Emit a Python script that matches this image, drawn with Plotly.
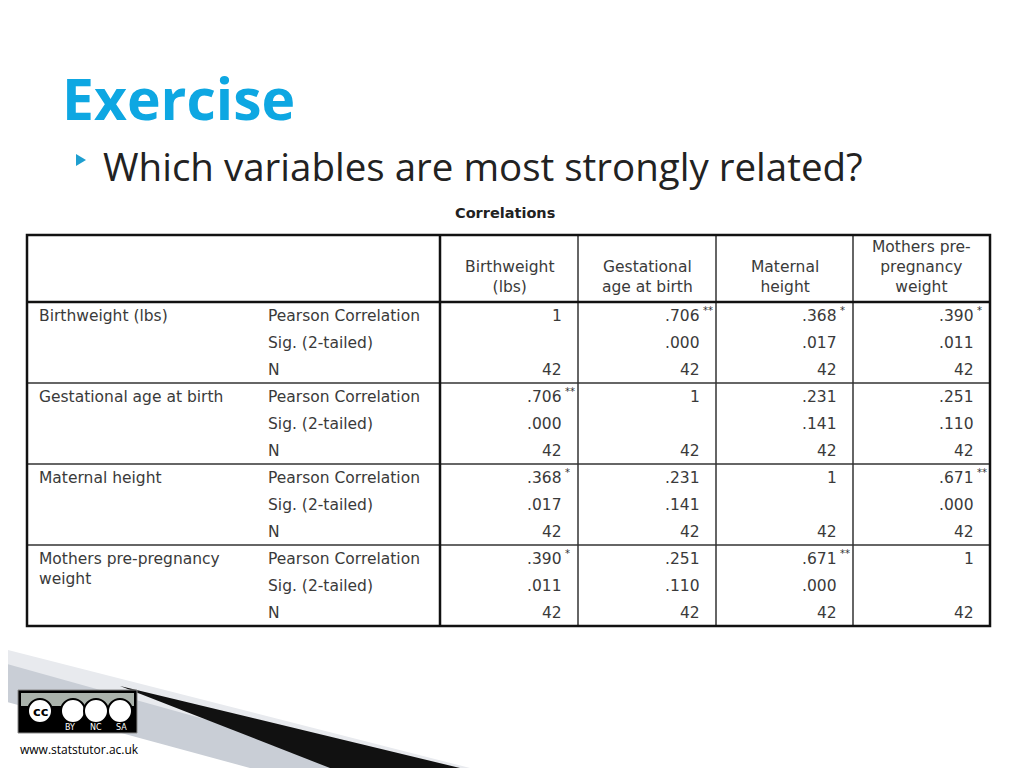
import plotly.graph_objects as go

title = "Exercise"
question = "Which variables are most strongly related?"
table_title = "Correlations"
col_heads = ["Birthweight<br>(lbs)", "Gestational<br>age at birth", "Maternal<br>height", "Mothers pre-<br>pregnancy<br>weight"]
row_vars = ["Birthweight (lbs)", "Gestational age at birth", "Maternal height", "Mothers pre-pregnancy<br>weight"]
stats = ["Pearson Correlation", "Sig. (2-tailed)", "N"]
pearson = [
    ["1", ".706**", ".368*", ".390*"],
    [".706**", "1", ".231", ".251"],
    [".368*", ".231", "1", ".671**"],
    [".390*", ".251", ".671**", "1"],
]
sig = [
    ["", ".000", ".017", ".011"],
    [".000", "", ".141", ".110"],
    [".017", ".141", "", ".000"],
    [".011", ".110", ".000", ""],
]
n_vals = [[42, 42, 42, 42]] * 4
footer = "www.statstutor.ac.uk"

X0, X1 = 27, 990
Y0, YH = 235, 302
col_x = [440, 578, 716, 853, 990]
GROUP_H = 81
ROW_H = 27

fig = go.Figure()
shapes = []
ann = []
TF = "DejaVu Sans"
SF = "Open Sans"

# slide decoration bottom-left
shapes.append(dict(type="path", path="M0,648 L470,768 L0,768 Z", fillcolor="#e8eaee", line_width=0, layer="below"))
shapes.append(dict(type="path", path="M0,662 L380,768 L0,768 Z", fillcolor="#c9ced6", line_width=0, layer="below"))
shapes.append(dict(type="path", path="M120,686 L460,768 L330,768 Z", fillcolor="#111111", line_width=0, layer="below"))
shapes.append(dict(type="path", path="M0,700 L250,768 L0,768 Z", fillcolor="#ffffff", line_width=0, layer="below"))

# cc badge
shapes.append(dict(type="rect", x0=18, y0=690, x1=137, y1=733, fillcolor="#000000", line=dict(color="#888", width=1)))
shapes.append(dict(type="rect", x0=21, y0=693, x1=134, y1=706, fillcolor="#aab2ab", line_width=0))
for cx in [40, 73, 96, 120]:
    shapes.append(dict(type="circle", x0=cx - 12, y0=699, x1=cx + 12, y1=723, fillcolor="#ffffff", line=dict(color="#000", width=2)))
ann.append(dict(x=40, y=711, text="<b>cc</b>", showarrow=False, font=dict(size=13, color="#000", family=TF)))
for cx, t in [(70, "BY"), (96, "NC"), (121, "SA")]:
    ann.append(dict(x=cx, y=727, text=t, showarrow=False, font=dict(size=8, color="#fff", family=TF)))

ann.append(dict(x=18, y=749, text=footer, showarrow=False, xanchor="left", font=dict(size=12, color="#000", family=SF)))

# titles
ann.append(dict(x=60, y=98, text="<b>" + title + "</b>", showarrow=False, xanchor="left", font=dict(size=57, color="#0ea7e2", family=SF)))
shapes.append(dict(type="path", path="M76,154 L86,160 L76,166 Z", fillcolor="#1e9fd0", line_width=0))
ann.append(dict(x=101, y=166, text=question, showarrow=False, xanchor="left", font=dict(size=38.5, color="#222", family=SF)))
ann.append(dict(x=505, y=213, text="<b>" + table_title + "</b>", showarrow=False, font=dict(size=14.5, color="#222", family=TF)))

# table grid
YB = YH + 4 * GROUP_H
for g in range(1, 4):
    y = YH + g * GROUP_H
    shapes.append(dict(type="line", x0=X0, x1=X1, y0=y, y1=y, line=dict(color="#333", width=1.5)))
for x in col_x[1:-1]:
    shapes.append(dict(type="line", x0=x, x1=x, y0=Y0, y1=YB, line=dict(color="#333", width=1.5)))
shapes.append(dict(type="line", x0=col_x[0], x1=col_x[0], y0=Y0, y1=YB, line=dict(color="#111", width=2.5)))
shapes.append(dict(type="line", x0=X0, x1=X1, y0=YH, y1=YH, line=dict(color="#111", width=2.5)))
shapes.append(dict(type="rect", x0=X0, y0=Y0, x1=X1, y1=YB, line=dict(color="#111", width=2.5)))

tf = dict(size=15.5, color="#3a3a3a", family=TF)
for j, h in enumerate(col_heads):
    ann.append(dict(x=(col_x[j] + col_x[j + 1]) / 2, y=YH - 4, yanchor="bottom", text=h, showarrow=False, font=tf))

for g in range(4):
    top = YH + g * GROUP_H
    ann.append(dict(x=37, y=top + 3, text=row_vars[g], showarrow=False, xanchor="left", yanchor="top", align="left", font=tf))
    rows = [pearson[g], sig[g], [str(v) for v in n_vals[g]]]
    for r in range(3):
        yc = top + 14 + r * ROW_H
        ann.append(dict(x=266, y=yc, text=stats[r], showarrow=False, xanchor="left", font=tf))
        for j in range(4):
            v = rows[r][j]
            if not v:
                continue
            star = ""
            base = v
            if v.endswith("**"):
                base, star = v[:-2], "**"
            elif v.endswith("*"):
                base, star = v[:-1], "*"
            xr = col_x[j + 1] - 14
            ann.append(dict(x=xr, y=yc, text=base, showarrow=False, xanchor="right", font=tf))
            if star:
                ann.append(dict(x=xr - 1, y=yc - 6, text=star, showarrow=False, xanchor="left", font=dict(size=10, color="#333", family=TF)))

fig.update_layout(
    width=1024, height=768, margin=dict(l=0, r=0, t=0, b=0),
    paper_bgcolor="#ffffff", plot_bgcolor="#ffffff",
    xaxis=dict(range=[8, 1032], visible=False, fixedrange=True),
    yaxis=dict(range=[776, 8], visible=False, fixedrange=True),
    shapes=shapes, annotations=ann, showlegend=False,
)
fig.write_html("out.html")
